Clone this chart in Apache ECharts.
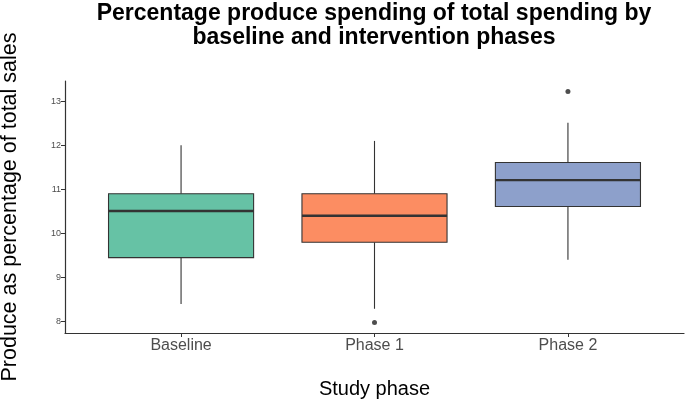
<!DOCTYPE html>
<html>
<head>
<meta charset="utf-8">
<script src="https://cdn.jsdelivr.net/npm/echarts@6/dist/echarts.min.js"></script>
<style>html,body{margin:0;padding:0;background:#fff}#c{width:685px;height:402px}</style>
</head>
<body>
<div id="c"></div>
<script>
const categories = ['Baseline', 'Phase 1', 'Phase 2'];
const whiskerLow = [8.40, 8.29, 9.40];
const q1 = [9.45, 9.80, 10.61];
const median = [10.51, 10.40, 11.21];
const q3 = [10.90, 10.90, 11.61];
const whiskerHigh = [12.00, 12.10, 12.51];
const outliers = [[1, 7.98], [2, 13.22]];
const fills = ['#66C2A5', '#FC8D62', '#8DA0CB'];
const yTicks = [8, 9, 10, 11, 12, 13];
const titleLines = ['Percentage produce spending of total spending by', 'baseline and intervention phases'];

const boxData = categories.map((c, i) => [i, whiskerLow[i], q1[i], median[i], q3[i], whiskerHigh[i]]);

const chart = echarts.init(document.getElementById('c'), null, {renderer: 'canvas'});
const FONT = '"Liberation Sans", Arial, Helvetica, sans-serif';
const LINE = '#333333';

chart.setOption({
  animation: false,
  backgroundColor: '#ffffff',
  textStyle: {fontFamily: FONT},
  grid: {left: 65, right: 1, top: 81, bottom: 69, containLabel: false, outerBoundsMode: 'none'},
  graphic: [
    {type: 'text', x: 374, y: 1, style: {text: titleLines.join('\n'), fontSize: 23, fontWeight: 'bold', fill: '#000', fontFamily: FONT, lineHeight: 24.5, align: 'center'}, z: 10}
  ],
  xAxis: {
    type: 'value', min: -0.6, max: 2.6,
    splitLine: {show: false},
    axisLine: {show: true, onZero: false, lineStyle: {color: LINE, width: 1.2}},
    axisTick: {show: true, length: 4, lineStyle: {color: LINE}, customValues: [0, 1, 2]},
    axisLabel: {customValues: [0, 1, 2], formatter: v => categories[Math.round(v)], color: '#4d4d4d', fontSize: 16, margin: 5, fontFamily: FONT},
    name: 'Study phase', nameLocation: 'middle', nameGap: 46,
    nameTextStyle: {fontSize: 20, color: '#000', fontFamily: FONT}
  },
  yAxis: {
    type: 'value', min: 7.74, max: 13.46,
    splitLine: {show: false},
    axisLine: {show: true, onZero: false, lineStyle: {color: LINE, width: 1.2}},
    axisTick: {show: true, length: 4, lineStyle: {color: LINE}, customValues: yTicks},
    axisLabel: {customValues: yTicks, color: '#4d4d4d', fontSize: 9, margin: 4, fontFamily: FONT},
    name: 'Produce as percentage of total sales', nameLocation: 'middle', nameGap: 44, nameRotate: 90,
    nameTextStyle: {fontSize: 21.5, color: '#000', fontFamily: FONT}
  },
  series: [
    {
      type: 'custom',
      data: boxData,
      encode: {x: 0, y: [1, 2, 3, 4, 5]},
      renderItem: function (params, api) {
        const x = api.value(0);
        const w = api.size([0.75, 0])[0];
        const pLow = api.coord([x, api.value(1)]);
        const pQ1 = api.coord([x, api.value(2)]);
        const pMed = api.coord([x, api.value(3)]);
        const pQ3 = api.coord([x, api.value(4)]);
        const pHigh = api.coord([x, api.value(5)]);
        const cx = pMed[0];
        const stroke = {stroke: LINE, lineWidth: 1.1};
        return {
          type: 'group',
          children: [
            {type: 'line', shape: {x1: cx, y1: pHigh[1], x2: cx, y2: pQ3[1]}, style: stroke},
            {type: 'line', shape: {x1: cx, y1: pQ1[1], x2: cx, y2: pLow[1]}, style: stroke},
            {type: 'rect', shape: {x: cx - w / 2, y: pQ3[1], width: w, height: pQ1[1] - pQ3[1]}, style: {fill: fills[params.dataIndex], stroke: LINE, lineWidth: 1.1}},
            {type: 'line', shape: {x1: cx - w / 2, y1: pMed[1], x2: cx + w / 2, y2: pMed[1]}, style: {stroke: LINE, lineWidth: 2.4}}
          ]
        };
      }
    },
    {
      type: 'scatter',
      data: outliers,
      symbol: 'circle',
      symbolSize: 5,
      itemStyle: {color: '#222'}
    }
  ]
});
</script>
</body>
</html>
